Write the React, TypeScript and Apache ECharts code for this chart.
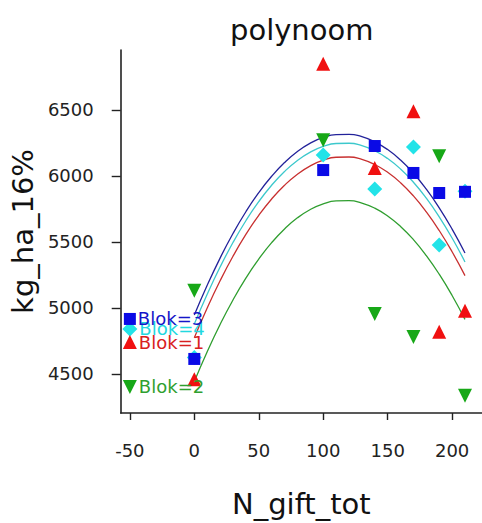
import React, { useEffect, useRef } from "react";
import * as echarts from "echarts";

const xValues = [0, 100, 140, 170, 190, 210];
const blok1 = [4460, 6850, 6060, 6490, 4820, 4980];
const blok2 = [5130, 6270, 4955, 4780, 6150, 4335];
const blok3 = [4614, 6045, 6227, 6023, 5871, 5880];
const blok4 = [4625, 6159, 5902, 6220, 5477, 5885];

const curveX = [0, 10, 20, 30, 40, 50, 60, 70, 80, 90, 100, 110, 120, 130, 140, 150, 160, 170, 180, 190, 200, 210];
const curve3 = [4946, 5172, 5378, 5564, 5729, 5874, 5998, 6102, 6186, 6249, 6292, 6314, 6316, 6298, 6259, 6200, 6121, 6021, 5900, 5759, 5598, 5417];
const curve4 = [4878, 5104, 5310, 5496, 5661, 5806, 5930, 6034, 6118, 6181, 6224, 6246, 6248, 6230, 6191, 6132, 6053, 5953, 5832, 5691, 5530, 5349];
const curve1 = [4774, 5000, 5206, 5392, 5557, 5702, 5826, 5930, 6014, 6077, 6120, 6142, 6144, 6126, 6087, 6028, 5949, 5849, 5728, 5587, 5426, 5245];
const curve2 = [4443, 4669, 4875, 5061, 5226, 5371, 5495, 5599, 5683, 5746, 5789, 5811, 5813, 5795, 5756, 5697, 5618, 5518, 5397, 5256, 5095, 4914];

const labelX = -50;
const labelNames = ["Blok=1", "Blok=2", "Blok=3", "Blok=4"];
const labelY = [4742, 4402, 4917, 4841];

const xTicks = [-50, 0, 50, 100, 150, 200];
const yTicks = [4500, 5000, 5500, 6000, 6500];

const FONT = "DejaVu Sans";

const pts = (ys: number[]) => xValues.map((x, i) => [x, ys[i]]);
const crv = (ys: number[]) => curveX.map((x, i) => [x, ys[i]]);

export default function App() {
  const ref = useRef<HTMLDivElement>(null);
  useEffect(() => {
    if (!ref.current) return;
    document.body.style.margin = "0";
    const chart = echarts.init(ref.current, undefined, { renderer: "svg" });

    const blocks = [
      { idx: 3, sym: "diamond", size: 15, rot: 0, color: "#22e3e8", line: "#3cc8cc", text: "#22d8e0", data: blok4, curve: curve4 },
      { idx: 1, sym: "triangle", size: 14, rot: 180, color: "#17a817", line: "#2f9e2f", text: "#2fa02f", data: blok2, curve: curve2 },
      { idx: 0, sym: "triangle", size: 14, rot: 0, color: "#f01010", line: "#c83030", text: "#d82020", data: blok1, curve: curve1 },
      { idx: 2, sym: "rect", size: 12, rot: 0, color: "#0a0ae6", line: "#22229a", text: "#1515c8", data: blok3, curve: curve3 },
    ];

    const series: any[] = [];
    blocks.forEach((b) => {
      series.push({
        type: "line",
        data: crv(b.curve),
        smooth: true,
        showSymbol: false,
        symbol: "none",
        lineStyle: { color: b.line, width: 1.3 },
        z: 2,
      });
    });
    blocks.forEach((b) => {
      series.push({
        type: "scatter",
        data: pts(b.data),
        symbol: b.sym,
        symbolSize: b.size,
        symbolRotate: b.rot,
        itemStyle: { color: b.color, opacity: 1 },
        z: 3,
      });
    });
    blocks.forEach((b) => {
      series.push({
        type: "scatter",
        data: [[labelX, labelY[b.idx]]],
        symbol: b.sym,
        symbolSize: b.size,
        symbolRotate: b.rot,
        itemStyle: { color: b.color, opacity: 1 },
        label: {
          show: true,
          position: "right",
          distance: 2,
          formatter: labelNames[b.idx],
          color: b.text,
          fontFamily: FONT,
          fontSize: 18,
        },
        z: 4,
      });
    });

    chart.setOption({
      animation: false,
      title: {
        text: "polynoom",
        left: 225,
        top: 10,
        textStyle: { fontFamily: FONT, fontSize: 29, fontWeight: "normal", color: "#111" },
      },
      grid: { left: 119, right: 0, top: 50, bottom: 110, containLabel: false },
      xAxis: {
        type: "value",
        min: -57.1,
        max: 223.2,
        name: "N_gift_tot",
        nameLocation: "middle",
        nameGap: 76,
        nameTextStyle: { fontFamily: FONT, fontSize: 29, color: "#111" },
        axisLine: { show: true, onZero: false, lineStyle: { color: "#222", width: 1.6 } },
        axisTick: { show: true, length: 7, customValues: xTicks, lineStyle: { color: "#222", width: 1.4 } },
        axisLabel: { customValues: xTicks, margin: 28, fontFamily: FONT, fontSize: 18, color: "#222", formatter: (v: number) => String(v) },
        splitLine: { show: false },
      },
      yAxis: {
        type: "value",
        min: 4204.5,
        max: 6954.5,
        name: "kg_ha_16%",
        nameLocation: "middle",
        nameGap: 78,
        nameTextStyle: { fontFamily: FONT, fontSize: 29, color: "#111" },
        axisLine: { show: true, onZero: false, lineStyle: { color: "#222", width: 1.6 } },
        axisTick: { show: true, length: 9, customValues: yTicks, lineStyle: { color: "#222", width: 1.4 } },
        axisLabel: { customValues: yTicks, margin: 27, fontFamily: FONT, fontSize: 18, color: "#222", formatter: (v: number) => String(v) },
        splitLine: { show: false },
      },
      series,
    });
    return () => chart.dispose();
  }, []);
  return <div ref={ref} style={{ width: 482, height: 523, position: "absolute", left: 0, top: 0 }} />;
}
